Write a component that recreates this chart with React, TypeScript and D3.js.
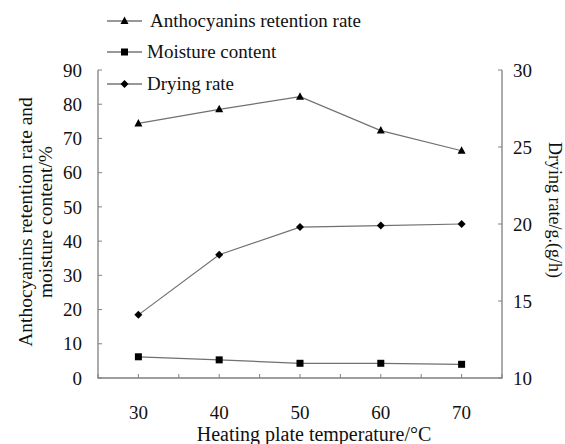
import React from "react";
import * as d3 from "d3";

// data
const temperatures = [30, 40, 50, 60, 70];
const anthocyanins = [74.4, 78.5, 82.2, 72.3, 66.4];
const moisture = [6.2, 5.3, 4.3, 4.3, 4.0];
const dryingRate = [14.1, 18.0, 19.8, 19.9, 20.0];
const leftTicks = [0, 10, 20, 30, 40, 50, 60, 70, 80, 90];
const rightTicks = [10, 15, 20, 25, 30];
const xTicks = [25, 30, 35, 40, 45, 50, 55, 60, 65, 70, 75];

const W = 565;
const H = 444;
const FONT = "'Liberation Serif', 'Times New Roman', serif";
const margin = { left: 98, right: 63, top: 70, bottom: 66 };

type Shape = "triangle" | "square" | "diamond";

const Marker = ({ x, y, shape }: { x: number; y: number; shape: Shape }) => {
  if (shape === "square") return <rect x={x - 3.5} y={y - 3.5} width={7} height={7} fill="#000" />;
  if (shape === "triangle")
    return <path d={`M${x},${y - 4.5}L${x + 4},${y + 3}L${x - 4},${y + 3}Z`} fill="#000" />;
  return <path d={`M${x},${y - 4}L${x + 4},${y}L${x},${y + 4}L${x - 4},${y}Z`} fill="#000" />;
};

export default function App() {
  const x = d3.scaleLinear().domain([25, 75]).range([margin.left, W - margin.right]);
  const yL = d3.scaleLinear().domain([0, 90]).range([H - margin.bottom, margin.top]);
  const yR = d3.scaleLinear().domain([10, 30]).range([H - margin.bottom, margin.top]);

  const series: { name: string; values: number[]; y: d3.ScaleLinear<number, number>; shape: Shape }[] = [
    { name: "Anthocyanins retention rate", values: anthocyanins, y: yL, shape: "triangle" },
    { name: "Moisture content", values: moisture, y: yL, shape: "square" },
    { name: "Drying rate", values: dryingRate, y: yR, shape: "diamond" },
  ];

  const x0 = x(25);
  const x1 = x(75);
  const yb = yL(0);
  const yt = yL(90);
  const axisColor = "#808080";

  return (
    <div style={{ position: "absolute", left: 0, top: 0 }}>
      <svg width={W} height={H} style={{ display: "block", background: "#fff" }} fontFamily={FONT}>
        {/* series */}
        {series.map((s) => {
          const line = d3
            .line<number>()
            .x((_, i) => x(temperatures[i]))
            .y((d) => s.y(d));
          return (
            <g key={s.name}>
              <path d={line(s.values) ?? ""} fill="none" stroke="#707070" strokeWidth={1.2} />
              {s.values.map((v, i) => (
                <Marker key={i} x={x(temperatures[i])} y={s.y(v)} shape={s.shape} />
              ))}
            </g>
          );
        })}

        {/* axes frame */}
        <path
          d={`M${x0},${yt}V${yb}H${x1}V${yt}`}
          fill="none"
          stroke={axisColor}
          strokeWidth={1.3}
        />
        {leftTicks.map((t) => (
          <g key={"l" + t}>
            <line x1={x0} x2={x0 + 4} y1={yL(t)} y2={yL(t)} stroke={axisColor} />
            <text x={x0 - 16} y={yL(t)} dy="0.35em" textAnchor="end" fontSize={19} fill="#111">
              {t}
            </text>
          </g>
        ))}
        {rightTicks.map((t) => (
          <g key={"r" + t}>
            <line x1={x1 - 4} x2={x1} y1={yR(t)} y2={yR(t)} stroke={axisColor} />
            <text x={x1 + 11} y={yR(t)} dy="0.35em" textAnchor="start" fontSize={19} fill="#111">
              {t}
            </text>
          </g>
        ))}
        {xTicks.map((t) => (
          <line key={"x" + t} x1={x(t)} x2={x(t)} y1={yb} y2={yb - 4} stroke={axisColor} />
        ))}
        {temperatures.map((t) => (
          <text key={"xl" + t} x={x(t)} y={yb + 41} textAnchor="middle" fontSize={19} fill="#111">
            {t}
          </text>
        ))}

        {/* axis titles */}
        <text x={314} y={441} textAnchor="middle" fontSize={20} fill="#111">
          Heating plate temperature/°C
        </text>
        <text
          transform={`translate(32,${222}) rotate(-90)`}
          textAnchor="middle"
          fontSize={19.5}
          fill="#111"
        >
          <tspan x={0} dy={0}>Anthocyanins retention rate and</tspan>
          <tspan x={0} dy={20}>moisture content/%</tspan>
        </text>
        <text
          transform={`translate(549,${210}) rotate(90)`}
          textAnchor="middle"
          fontSize={18}
          fill="#111"
        >
          Drying rate/g.(g/h)
        </text>

        {/* legend */}
        {series.map((s, i) => {
          const ly = [21, 52, 84][i];
          return (
            <g key={"lg" + s.name}>
              <line x1={107} x2={142} y1={ly} y2={ly} stroke="#333" strokeWidth={1.2} />
              <Marker x={124.5} y={ly} shape={s.shape} />
              <text x={i === 0 ? 150 : 147} y={ly} dy="0.33em" fontSize={19} fill="#111">
                {s.name}
              </text>
            </g>
          );
        })}
      </svg>
    </div>
  );
}
